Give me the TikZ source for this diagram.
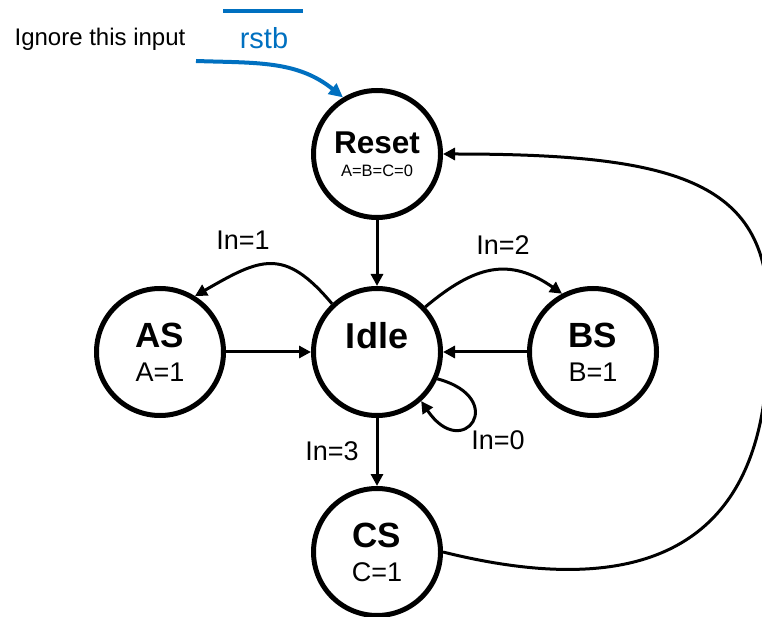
\documentclass[tikz,border=0pt]{standalone}
\usepackage{fontspec}
\setmainfont{Liberation Sans}
\usetikzlibrary{arrows.meta}
\definecolor{rstblue}{RGB}{0,112,192}
\tikzset{
  state/.style={circle, draw, line width=5pt, minimum size=127pt, inner sep=0pt,
    align=center, font=\fontsize{27}{34}\selectfont},
  trans/.style={line width=3pt, -{Triangle[length=12pt,width=12pt]}},
  cond/.style={font=\fontsize{27}{30}\selectfont, inner sep=0pt},
  rstline/.style={draw=rstblue, line width=4pt},
}
\newcommand{\stname}[2][35]{{\fontsize{#1}{#1}\selectfont\bfseries #2}}

\begin{document}
\begin{tikzpicture}[x=1pt,y=1pt]
  \useasboundingbox (0,0) rectangle (762,616);
  % states
  \node[state, font=\fontsize{16.5}{23}\selectfont] (reset) at (377,462) {\stname[31.5]{Reset}\\A=B=C=0};
  \node[state] (idle) at (377,264) {\stname[36]{Idle}\\\phantom{A=1}};
  \node[state] (as) at (160,264) {\stname{AS}\\A=1};
  \node[state] (bs) at (593,264) {\stname{BS}\\B=1};
  \node[state] (cs) at (377,64) {\stname{CS}\\C=1};

  % reset input
  \node[font=\fontsize{24}{26}\selectfont, inner sep=0pt] (note) at (100,577) {Ignore this input};
  \node[font=\fontsize{29}{30}\selectfont, text=rstblue, inner sep=0pt] (rstb) at (264,578) {rstb};
  \draw[rstline] (223,605) -- (303,605);
  \coordinate (rstin) at (196,555);
  \draw[rstline, -{Triangle[length=14pt,width=13pt]}] (rstin) to[out=-2, in=141] (reset.121);

  % transitions
  \draw[trans] (reset) -- (idle);
  \draw[trans] (as) -- (idle);
  \draw[trans] (bs) -- (idle);
  \draw[trans] (idle) -- (cs);
  \draw[trans] (idle.133) to[out=130, in=30, looseness=1.4] (as.58);
  \draw[trans] (idle.43) to[out=40, in=145, looseness=1.2] (bs.118);
  \draw[trans] (idle.-24) .. controls +(-15:75) and +(-56:75) .. (idle.-48);
  \coordinate (bend) at (768,306);
  \draw[trans] (cs.east) .. controls +(-14:350) and +(0,-80) .. (bend)
    .. controls +(0,130) and +(230,0) .. (reset.east);

  % conditions
  \node[cond] (in1) at (243,376) {In=1};
  \node[cond] (in2) at (503,371) {In=2};
  \node[cond] (in3) at (332,165) {In=3};
  \node[cond] (in0) at (498,176) {In=0};
\end{tikzpicture}
\end{document}
